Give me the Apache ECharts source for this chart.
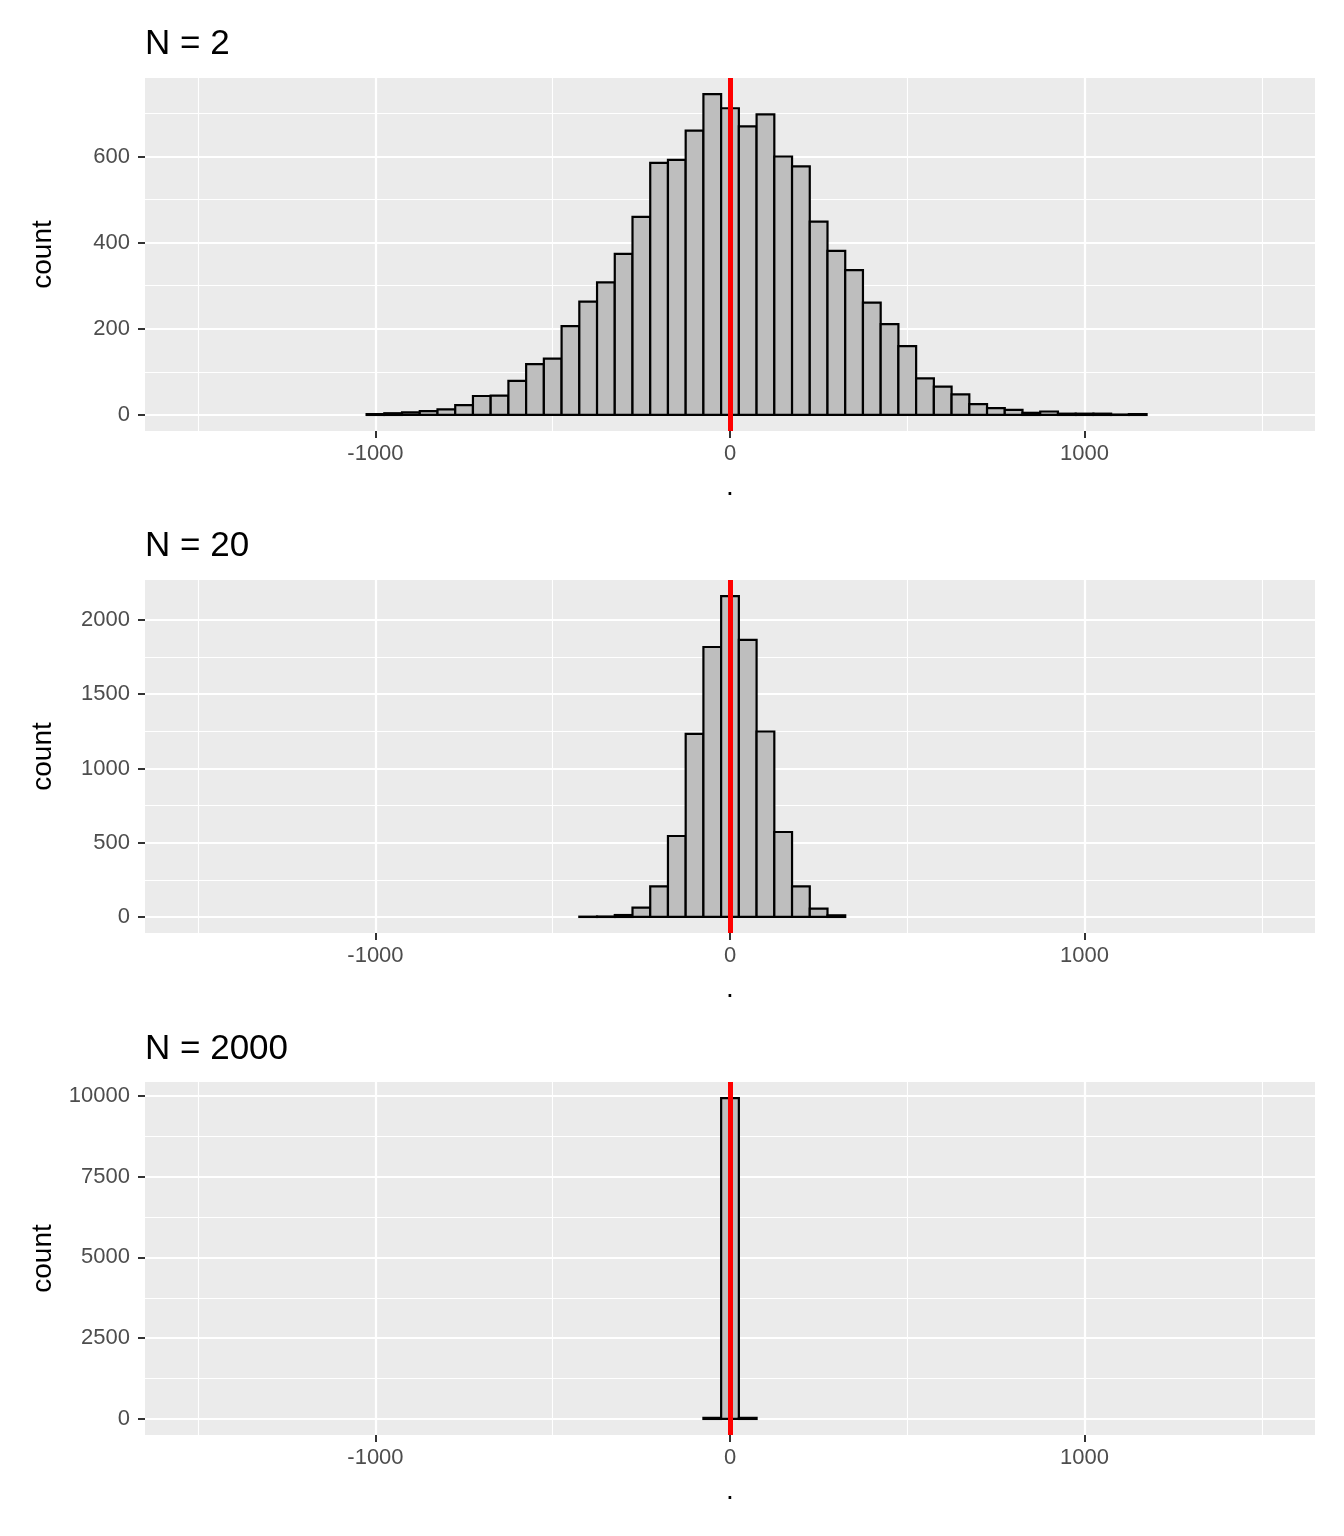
<!DOCTYPE html>
<html>
<head>
    <meta charset="utf-8">
    <title>N = 2 / 20 / 2000</title>
    <script src="https://cdn.jsdelivr.net/npm/echarts@6/dist/echarts.min.js"></script>
    <style>
        html, body { margin: 0; padding: 0; background: #fff; }
    </style>
</head>
<body>
    <div id="main" style="width: 1344px;height:1536px;"></div>
    <script>
        // histogram bins (centers), width 50
        var binWidth = 50;

        var binsN2 = [-1000, -950, -900, -850, -800, -750, -700, -650, -600, -550, -500, -450, -400, -350, -300,
            -250, -200, -150, -100, -50, 0, 50, 100, 150, 200, 250, 300, 350, 400, 450, 500, 550, 600, 650, 700,
            750, 800, 850, 900, 950, 1000, 1050, 1100, 1150];
        var countsN2 = [2, 4, 6, 9, 13, 23, 44, 45, 79, 118, 131, 206, 263, 308, 374,
            460, 585, 592, 660, 745, 712, 670, 698, 600, 577, 449, 381, 336, 261, 211, 160, 85, 66, 48, 25,
            16, 12, 5, 8, 3, 3, 3, 1, 2];

        var binsN20 = [-400, -350, -300, -250, -200, -150, -100, -50, 0, 50, 100, 150, 200, 250, 300];
        var countsN20 = [2, 3, 13, 63, 206, 545, 1233, 1818, 2161, 1866, 1249, 572, 206, 56, 11];

        var binsN2000 = [-50, 0, 50];
        var countsN2000 = [34, 9932, 34];

        // axis ticks
        var xTicks = [-1000, 0, 1000];
        var xMinor = [-1500, -500, 500, 1500];
        var yTicksN2 = [0, 200, 400, 600];
        var yMinorN2 = [100, 300, 500, 700];
        var yTicksN20 = [0, 500, 1000, 1500, 2000];
        var yMinorN20 = [250, 750, 1250, 1750];
        var yTicksN2000 = [0, 2500, 5000, 7500, 10000];
        var yMinorN2000 = [1250, 3750, 6250, 8750];

        var FONT = "'Liberation Sans', Arial, Helvetica, sans-serif";

        var panels = [
            { title: 'N = 2', bins: binsN2, counts: countsN2, major: yTicksN2, minor: yMinorN2, top: 78, titleTop: 27 },
            { title: 'N = 20', bins: binsN20, counts: countsN20, major: yTicksN20, minor: yMinorN20, top: 580, titleTop: 529 },
            { title: 'N = 2000', bins: binsN2000, counts: countsN2000, major: yTicksN2000, minor: yMinorN2000, top: 1082, titleTop: 1032 }
        ];

        var myChart = echarts.init(document.getElementById('main'), null, { renderer: 'canvas' });

        var option = {
            animation: false,
            backgroundColor: '#fff',
            title: [], grid: [], xAxis: [], yAxis: [], series: []
        };

        panels.forEach(function (p, i) {
            var maxCount = Math.max.apply(null, p.counts);
            var yMin = -0.05 * maxCount, yMax = 1.05 * maxCount;

            option.title.push({
                text: p.title, left: 145, top: p.titleTop, padding: 0,
                textStyle: { fontFamily: FONT, fontSize: 35, fontWeight: 'normal', color: '#000' }
            });
            option.grid.push({
                left: 145, top: p.top, width: 1170, height: 353,
                show: true, backgroundColor: '#EBEBEB', borderWidth: 0
            });

            // main x axis (major grid + labels)
            option.xAxis.push({
                type: 'value', gridIndex: i, min: -1650, max: 1650, position: 'bottom',
                name: '.', nameLocation: 'middle', nameGap: 42,
                nameTextStyle: { fontFamily: FONT, fontSize: 28, color: '#000' },
                axisLine: { show: false, onZero: false },
                axisTick: { show: true, length: 7, customValues: xTicks, lineStyle: { color: '#333', width: 2 } },
                axisLabel: { customValues: xTicks, margin: 12, fontFamily: FONT, fontSize: 22, color: '#4D4D4D',
                    formatter: function (v) { return String(v); } },
                splitLine: { show: true, customValues: xTicks, lineStyle: { color: '#fff', width: 2.2 } }
            });
            // minor x grid
            option.xAxis.push({
                type: 'value', gridIndex: i, min: -1650, max: 1650, position: 'bottom',
                axisLine: { show: false, onZero: false }, axisLabel: { show: false },
                axisTick: { show: false, customValues: xMinor },
                splitLine: { show: true, customValues: xMinor, lineStyle: { color: '#fff', width: 1.1 } }
            });

            option.yAxis.push({
                type: 'value', gridIndex: i, min: yMin, max: yMax, position: 'left',
                name: 'count', nameLocation: 'middle', nameGap: 88, nameRotate: 90,
                nameTextStyle: { fontFamily: FONT, fontSize: 28, color: '#000' },
                axisLine: { show: false, onZero: false },
                axisTick: { show: true, length: 7, customValues: p.major, lineStyle: { color: '#333', width: 2 } },
                axisLabel: { customValues: p.major, margin: 15, fontFamily: FONT, fontSize: 22, color: '#4D4D4D',
                    formatter: function (v) { return String(v); } },
                splitLine: { show: true, customValues: p.major, lineStyle: { color: '#fff', width: 2.2 } }
            });
            option.yAxis.push({
                type: 'value', gridIndex: i, min: yMin, max: yMax, position: 'left',
                axisLine: { show: false, onZero: false }, axisLabel: { show: false },
                axisTick: { show: false, customValues: p.minor },
                splitLine: { show: true, customValues: p.minor, lineStyle: { color: '#fff', width: 1.1 } }
            });

            option.series.push({
                type: 'custom',
                xAxisIndex: i * 2,
                yAxisIndex: i * 2,
                data: p.bins.map(function (b, k) { return [b, p.counts[k]]; }),
                renderItem: function (params, api) {
                    var c = api.value(0), v = api.value(1);
                    var p0 = api.coord([c - binWidth / 2, v]);
                    var p1 = api.coord([c + binWidth / 2, 0]);
                    return {
                        type: 'rect',
                        shape: { x: p0[0], y: p0[1], width: p1[0] - p0[0], height: p1[1] - p0[1] },
                        style: { fill: '#BEBEBE', stroke: '#000', lineWidth: 2.2 }
                    };
                },
                markLine: {
                    silent: true,
                    symbol: ['none', 'none'],
                    label: { show: false },
                    lineStyle: { color: '#FF0000', width: 5, type: 'solid' },
                    data: [{ xAxis: 0 }]
                }
            });
        });

        myChart.setOption(option);
    </script>
</body>
</html>
